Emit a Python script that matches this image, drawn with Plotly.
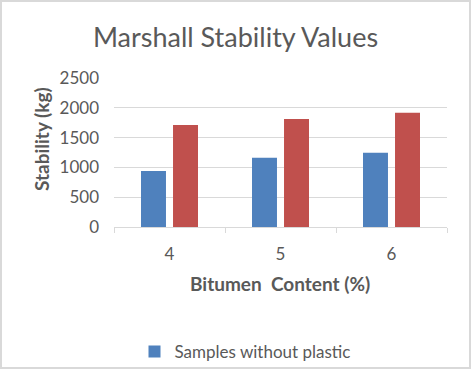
import plotly.graph_objects as go

categories = ["4", "5", "6"]
without_plastic = [940, 1160, 1245]
with_plastic = [1710, 1810, 1915]
y_ticks = [0, 500, 1000, 1500, 2000, 2500]

W, H = 471, 369
L, R, T, B = 114, 24, 78, 142
pw, ph = W - L - R, H - T - B

def px(x):
    return (x - L) / pw

def py(y):
    return (H - B - y) / ph

FONT = "Lato"
GREY = "#595959"

fig = go.Figure()
fig.add_trace(go.Bar(x=categories, y=without_plastic, name="Samples without plastic",
                     marker=dict(color="#4F81BD", line=dict(width=0))))
fig.add_trace(go.Bar(x=categories, y=with_plastic, name="Samples with plastic",
                     marker=dict(color="#C0504D", line=dict(width=0)), showlegend=False))

fig.update_layout(
    width=W, height=H,
    margin=dict(l=L, r=R, t=T, b=B, autoexpand=False),
    paper_bgcolor="white", plot_bgcolor="white",
    barmode="group", bargap=0.423, bargroupgap=0.22,
    font=dict(family=FONT, color=GREY),
    title=dict(text="Marshall Stability Values", x=0.5, xref="container", xanchor="center",
               y=1 - 38 / H, yanchor="middle", yref="container",
               font=dict(family=FONT, size=27, color=GREY)),
    showlegend=True,
    legend=dict(orientation="h", x=px(245), xanchor="center", y=py(352), yanchor="middle",
                font=dict(family=FONT, size=17, color=GREY), itemwidth=30,
                bgcolor="rgba(0,0,0,0)"),
    xaxis=dict(type="category", showline=True, linecolor="#d9d9d9", linewidth=1,
               ticks="outside", tickson="boundaries", ticklen=5, tickcolor="#d9d9d9",
               tickfont=dict(family=FONT, size=17, color=GREY), ticklabelstandoff=12,
               showgrid=False),
    yaxis=dict(range=[0, 2500], tickvals=y_ticks, showgrid=True, gridcolor="#d9d9d9",
               gridwidth=1, zeroline=False, showline=False, ticks="",
               tickfont=dict(family=FONT, size=17, color=GREY), ticklabelstandoff=14),
)

fig.add_annotation(text="<b>Stability (kg)</b>", xref="paper", yref="paper",
                   x=px(41), y=py(139), textangle=-90, showarrow=False,
                   xanchor="center", yanchor="middle",
                   font=dict(family=FONT, size=19, color=GREY))
fig.add_annotation(text="<b>Bitumen  Content (%)</b>", xref="paper", yref="paper",
                   x=px(280), y=py(283), showarrow=False,
                   xanchor="center", yanchor="middle",
                   font=dict(family=FONT, size=19, color=GREY))

fig.add_shape(type="rect", xref="paper", yref="paper",
              x0=px(1), x1=px(W - 1), y0=py(1), y1=py(H - 1),
              line=dict(color="#d9d9d9", width=2), fillcolor="rgba(0,0,0,0)", layer="below")

fig.write_html("out.html", config=dict(displayModeBar=False),
               post_script="document.body.style.margin='0';document.body.style.overflow='hidden';")
